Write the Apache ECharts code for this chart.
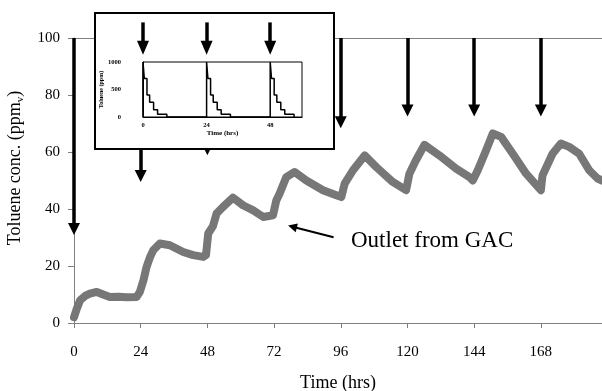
<!DOCTYPE html>
<html>
<head>
<meta charset="utf-8">
<script src="https://cdn.jsdelivr.net/npm/echarts@6/dist/echarts.min.js"></script>
<style>
  html, body { margin: 0; padding: 0; background: #fff; }
  #chart { width: 602px; height: 391px; }
</style>
</head>
<body>
<div id="chart"></div>
<script>
// main curve: outlet toluene concentration (ppmv) vs time (hrs)
const outletTime = [0, 1, 2.2, 4, 5.7, 8.2, 10.5, 12.9, 16, 19, 22.5, 23.7, 25, 26.1, 27.3, 28.5, 30.9, 34.5, 39.3, 42.9, 46.5, 47.5, 48.3, 50, 51.3, 53.6, 57.2, 60.8, 64.5, 68.1, 71.6, 72.3, 72.8, 74, 76.4, 79.4, 83.6, 89.6, 94.4, 96.2, 97.4, 100.4, 104.6, 108.8, 114.7, 119.5, 120.7, 123, 126.1, 131.5, 137.5, 142.3, 143.5, 145.3, 148.3, 150.7, 153.7, 157.9, 162.7, 168, 168.6, 172.2, 175.2, 178.2, 181.8, 185.4, 188.4, 190]
const outletConc = [2, 5, 8, 9.5, 10.3, 10.9, 10, 9.1, 9.2, 9, 9.1, 10.9, 15, 19.6, 23, 25.5, 27.9, 27.3, 24.9, 23.8, 23.2, 23.8, 31.4, 34, 38.4, 40.7, 44, 41.3, 39.5, 37.2, 37.8, 37.2, 43, 45.4, 51.2, 53, 50, 46.6, 44.8, 44.2, 48.9, 53.6, 58.8, 54.7, 49.5, 46.6, 52.4, 57, 62.5, 58.8, 54.2, 51.2, 50, 53.6, 60.6, 66.5, 65.3, 59.4, 52.4, 46.6, 51.8, 59.4, 63, 61.8, 59.4, 53.6, 50.7, 50]

// injection arrows (time, where the arrowhead sits)
const pulseTime = [0, 24, 48, 72, 96, 120, 144, 168]
const arrowEnd = [33, 51.6, 61, 65, 70.4, 74.6, 74.6, 74.6]

const xTicks = [0, 24, 48, 72, 96, 120, 144, 168]

// inset: inlet pulses
const insetTime = [0, 0, 0.5, 1.5, 2.5, 4, 5.5, 9, 24, 24, 24.5, 25.5, 26.5, 28, 29.5, 33, 48, 48, 48.5, 49.5, 50.5, 52, 53.5, 57]
const insetConc = [0, 1000, 700, 400, 270, 130, 50, 0, 0, 1000, 700, 400, 270, 130, 50, 0, 0, 1000, 700, 400, 270, 130, 50, 0]
const insetTicks = [0, 24, 48]
const insetArrowTime = [0, 24, 48]

const serif = "'Liberation Serif', 'Times New Roman', serif"

const myChart = echarts.init(document.getElementById('chart'))

const vArrows = pulseTime.map((t, i) => [
  { coord: [t, 100], symbol: 'none' },
  { coord: [t, arrowEnd[i]], symbol: 'triangle', symbolSize: 12 },
])

const insetArrows = insetArrowTime.map((t) => [
  { coord: [t, 1720], symbol: 'none' },
  { coord: [t, 1260], symbol: 'triangle', symbolSize: [12, 14] },
])

const option = {
  animation: false,
  backgroundColor: '#fff',
  grid: [
    { left: 74, top: 38, right: 0, bottom: 68, outerBoundsMode: 'none', containLabel: false },
    { left: 143, top: 62, width: 159, height: 55, show: true, borderColor: '#000', borderWidth: 1, backgroundColor: '#fff', z: 120, outerBoundsMode: 'none' },
    // strip above the inset plot, same time scale, for the small arrows
    { left: 143, top: 12.5, width: 159, height: 49.5, outerBoundsMode: 'none' },
  ],
  xAxis: [
    {
      type: 'value',
      gridIndex: 0,
      min: 0,
      max: 190,
      name: 'Time (hrs)',
      nameLocation: 'middle',
      nameGap: 51,
      nameTextStyle: { fontFamily: serif, fontSize: 18, color: '#000' },
      axisLine: { lineStyle: { color: '#808080', width: 1 } },
      axisTick: { show: true, length: 5, customValues: xTicks, lineStyle: { color: '#808080' } },
      axisLabel: { customValues: xTicks, margin: 22, fontFamily: serif, fontSize: 15, color: '#000' },
      splitLine: { show: false },
    },
    {
      type: 'value',
      gridIndex: 1,
      min: 0,
      max: 60,
      z: 120,
      name: 'Time (hrs)',
      nameLocation: 'middle',
      nameGap: 13,
      nameTextStyle: { fontFamily: serif, fontSize: 7, fontWeight: 'bold', color: '#000' },
      axisLine: { lineStyle: { color: '#000', width: 1 } },
      axisTick: { show: false },
      axisLabel: { customValues: insetTicks, margin: 5, fontFamily: serif, fontSize: 6.5, fontWeight: 'bold', color: '#000' },
      splitLine: { show: false },
    },
    {
      type: 'value',
      gridIndex: 2,
      min: 0,
      max: 60,
      show: false,
    },
  ],
  yAxis: [
    {
      type: 'value',
      gridIndex: 0,
      min: 0,
      max: 100,
      interval: 20,
      axisLine: { show: true, lineStyle: { color: '#808080', width: 1 } },
      axisTick: { show: true, length: 6, lineStyle: { color: '#808080' } },
      axisLabel: { margin: 14, fontFamily: serif, fontSize: 15, color: '#000' },
      splitLine: { show: false },
    },
    {
      type: 'value',
      gridIndex: 1,
      min: 0,
      max: 1000,
      interval: 500,
      z: 120,
      name: 'Toluene (ppm)',
      nameLocation: 'middle',
      nameGap: 35,
      nameTextStyle: { fontFamily: serif, fontSize: 6, fontWeight: 'bold', color: '#000' },
      axisLine: { show: true, lineStyle: { color: '#000', width: 1 } },
      axisTick: { show: false },
      axisLabel: { margin: 22, fontFamily: serif, fontSize: 6.5, fontWeight: 'bold', color: '#000', formatter: (v) => String(v) },
      splitLine: { show: false },
    },
    {
      type: 'value',
      gridIndex: 2,
      min: 1000,
      max: 1900,
      show: false,
    },
  ],
  graphic: [
    {
      type: 'rect',
      shape: { x: 95, y: 13, width: 239, height: 136 },
      style: { fill: '#fff', stroke: '#000', lineWidth: 2 },
      z: 100,
    },
    {
      type: 'text',
      x: 15.5,
      y: 168,
      rotation: Math.PI / 2,
      style: {
        text: 'Toluene conc. (ppm{sub|v})',
        fontFamily: serif,
        fontSize: 18,
        fill: '#000',
        align: 'center',
        verticalAlign: 'middle',
        rich: {
          sub: { fontFamily: serif, fontSize: 11, fill: '#000', padding: [9, 0, 0, 0] },
        },
      },
    },
  ],
  series: [
    {
      type: 'line',
      xAxisIndex: 0,
      yAxisIndex: 0,
      z: 2,
      data: outletTime.map((t, i) => [t, outletConc[i]]),
      symbol: 'none',
      lineStyle: { color: '#777', width: 8, cap: 'round', join: 'round' },
      markLine: {
        silent: true,
        symbol: ['none', 'triangle'],
        label: { show: false },
        lineStyle: { color: '#000', width: 3.5, type: 'solid' },
        data: [
          [
            { coord: [0, 100], symbol: 'none', lineStyle: { color: '#808080', width: 1 } },
            { coord: [190, 100], symbol: 'none' },
          ],
          ...vArrows,
          [
            { coord: [93.4, 30.1], symbol: 'none', lineStyle: { width: 2 } },
            { coord: [78.6, 33.8], symbol: 'triangle', symbolSize: 9 },
          ],
        ],
      },
      markPoint: {
        silent: true,
        symbol: 'circle',
        symbolSize: 1,
        itemStyle: { color: 'rgba(0,0,0,0)' },
        label: {
          show: true,
          position: 'right',
          distance: 0,
          formatter: 'Outlet from GAC',
          fontFamily: serif,
          fontSize: 23,
          color: '#000',
        },
        data: [{ coord: [99.5, 28.7] }],
      },
    },
    {
      type: 'line',
      xAxisIndex: 1,
      yAxisIndex: 1,
      z: 121,
      step: 'end',
      data: insetTime.map((t, i) => [t, insetConc[i]]),
      symbol: 'none',
      lineStyle: { color: '#000', width: 1.5 },
    },
    {
      type: 'line',
      xAxisIndex: 2,
      yAxisIndex: 2,
      z: 121,
      data: [],
      markLine: {
        z: 122,
        silent: true,
        symbol: ['none', 'triangle'],
        label: { show: false },
        lineStyle: { color: '#000', width: 3.5, type: 'solid' },
        data: insetArrows,
      },
    },
  ],
}

myChart.setOption(option)

window.addEventListener('resize', () => {
  myChart.resize()
})
</script>
</body>
</html>
